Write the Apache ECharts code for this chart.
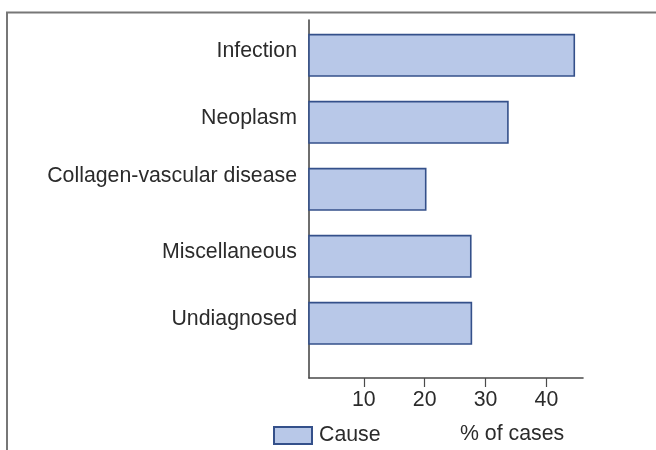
<!DOCTYPE html>
<html>
<head>
<meta charset="utf-8">
<script src="https://cdn.jsdelivr.net/npm/echarts@6/dist/echarts.min.js"></script>
<style>
  html, body { margin: 0; padding: 0; background: #ffffff; }
  #chart { width: 656px; height: 450px; }
</style>
</head>
<body>
<div id="chart"></div>
<script>
// Causes of fever of unknown origin, share of cases
const categories = ['Infection', 'Neoplasm', 'Collagen-vascular disease', 'Miscellaneous', 'Undiagnosed'];
const percentOfCases = [44.7, 33.8, 20.3, 27.7, 27.8];
const tickValues = [10, 20, 30, 40];
const seriesName = 'Cause';
const axisTitle = '% of cases';

const FONT = '"Liberation Sans", Arial, Helvetica, sans-serif';
const TEXT = '#2b2b2b';
const AXIS = '#4a4a4a';
const X_MIN = 1, X_MAX = 46;
const FS = 21.3;

const chart = echarts.init(document.getElementById('chart'), null, { renderer: 'canvas' });

chart.setOption({
  animation: false,
  backgroundColor: '#ffffff',
  textStyle: { fontFamily: FONT },
  graphic: [{
    type: 'rect',
    shape: { x: 7, y: 12.5, width: 800, height: 800 },
    style: { fill: 'none', stroke: '#777777', lineWidth: 2 },
    silent: true
  }],
  legend: {
    data: [{ name: seriesName, icon: 'rect' }],
    left: 273,
    top: 425,
    padding: 0,
    itemWidth: 38,
    itemHeight: 17,
    itemGap: 10,
    textStyle: { fontFamily: FONT, fontSize: FS, color: TEXT, padding: [0, 0, 0, 2] }
  },
  grid: [
    // bars
    { left: 309, right: 73, top: 21.8, height: 335, containLabel: false },
    // axis frame
    { left: 309, right: 73, top: 20, bottom: 72, containLabel: false }
  ],
  xAxis: [
    {
      gridIndex: 0, type: 'value', min: X_MIN, max: X_MAX,
      show: false
    },
    {
      gridIndex: 1, type: 'value', min: X_MIN, max: X_MAX,
      axisLine: { show: true, lineStyle: { color: AXIS, width: 1.6 } },
      axisTick: { show: true, customValues: tickValues, length: 9, lineStyle: { color: AXIS, width: 1.2 } },
      axisLabel: { show: true, customValues: tickValues, margin: 12, fontSize: FS, color: TEXT, fontFamily: FONT },
      splitLine: { show: false },
      name: axisTitle,
      nameLocation: 'middle',
      nameGap: 46,
      nameTextStyle: { fontSize: FS, color: TEXT, fontFamily: FONT, align: 'left', padding: [0, 0, 0, 14] }
    }
  ],
  yAxis: [
    {
      gridIndex: 0, type: 'category', inverse: true, data: categories,
      axisLine: { show: false },
      axisTick: { show: false },
      axisLabel: {
        show: true, margin: 12, fontSize: FS, color: TEXT, fontFamily: FONT, align: 'right',
        // the long two-word label sits higher than the others
        formatter: function (v) {
          return (v.indexOf(' ') > 0 ? '{hi|' : '{n|') + v + '}';
        },
        rich: {
          n: { fontSize: FS, color: TEXT, fontFamily: FONT, padding: [0, 0, 8, 0] },
          hi: { fontSize: FS, color: TEXT, fontFamily: FONT, padding: [0, 0, 26, 0] }
        }
      },
      splitLine: { show: false }
    },
    {
      gridIndex: 1, type: 'value', min: 0, max: 1,
      axisLine: { show: true, lineStyle: { color: AXIS, width: 1.6 } },
      axisTick: { show: false },
      axisLabel: { show: false },
      splitLine: { show: false }
    }
  ],
  series: [{
    name: seriesName,
    type: 'bar',
    xAxisIndex: 0,
    yAxisIndex: 0,
    data: percentOfCases,
    barWidth: 43,
    itemStyle: { color: '#b8c8e8', borderColor: '#34508a', borderWidth: 1.6 }
  }]
});
</script>
</body>
</html>
